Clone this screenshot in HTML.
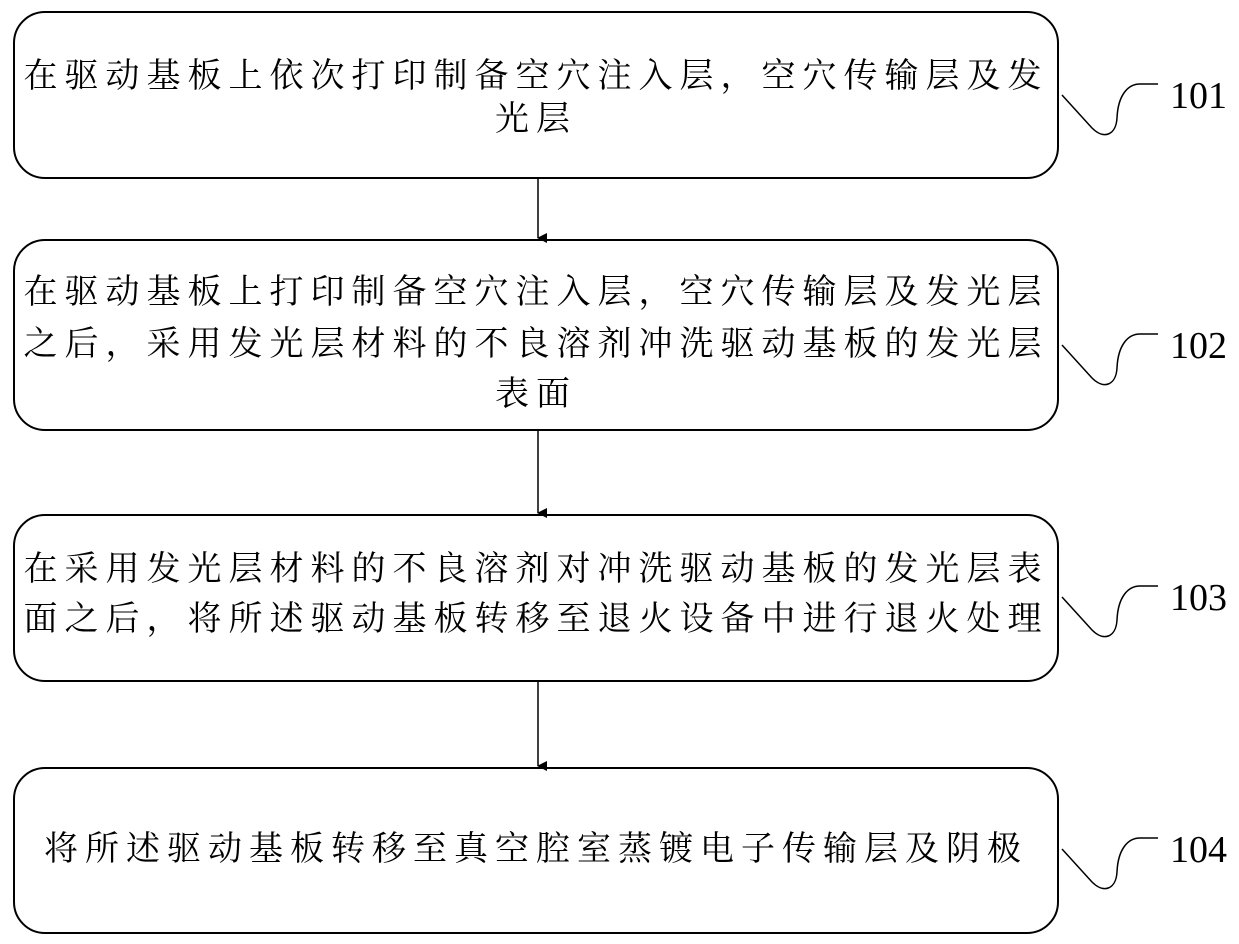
<!DOCTYPE html>
<html><head><meta charset="utf-8"><style>
body{margin:0;width:1239px;height:944px;background:#fff;position:relative;overflow:hidden;font-family:"Liberation Serif","Noto Serif CJK SC",serif}
.box{position:absolute;left:13px;width:1046px;border:2px solid #000;border-radius:32px;box-sizing:border-box}
.t{position:absolute;left:13px;width:1046px;text-align:center;font-size:34px;letter-spacing:7px;line-height:40px;white-space:nowrap;color:#000}
.n{position:absolute;left:1170px;font-size:38px;line-height:40px;font-family:"Liberation Serif",serif}
</style></head><body>
<div class="box" style="top:11px;height:168px"></div>
<div class="t" style="top:57px">在驱动基板上依次打印制备空穴注入层，空穴传输层及发</div>
<div class="t" style="top:100px">光层</div>
<div class="box" style="top:239px;height:192px"></div>
<div class="t" style="top:273px">在驱动基板上打印制备空穴注入层，空穴传输层及发光层</div>
<div class="t" style="top:325px">之后，采用发光层材料的不良溶剂冲洗驱动基板的发光层</div>
<div class="t" style="top:375px">表面</div>
<div class="box" style="top:514px;height:168px"></div>
<div class="t" style="top:550px">在采用发光层材料的不良溶剂对冲洗驱动基板的发光层表</div>
<div class="t" style="top:600px">面之后，将所述驱动基板转移至退火设备中进行退火处理</div>
<div class="box" style="top:767px;height:167px"></div>
<div class="t" style="top:830px">将所述驱动基板转移至真空腔室蒸镀电子传输层及阴极</div>
<div class="n" style="top:76px">101</div>
<div class="n" style="top:326px">102</div>
<div class="n" style="top:578px">103</div>
<div class="n" style="top:830px">104</div>
<svg width="1239" height="944" style="position:absolute;left:0;top:0" fill="none" stroke="#000" stroke-width="1.5">
<defs><marker id="a" markerWidth="10" markerHeight="10" refX="5" refY="9" orient="auto" markerUnits="userSpaceOnUse"><path d="M0,0 L10,0 L5,10Z" fill="#000" stroke="none"/></marker></defs>
<line x1="538" y1="179" x2="538" y2="238" marker-end="url(#a)"/>
<line x1="538" y1="431" x2="538" y2="513" marker-end="url(#a)"/>
<line x1="538" y1="682" x2="538" y2="766" marker-end="url(#a)"/>
<path d="M1062,95 L1092,128 C1104,140 1116,135 1117,118 C1118,95 1128,84 1140,84 L1158,84"/>
<path d="M1062,345 L1092,378 C1104,390 1116,385 1117,368 C1118,345 1128,334 1140,334 L1158,334"/>
<path d="M1062,597 L1092,630 C1104,642 1116,637 1117,620 C1118,597 1128,586 1140,586 L1158,586"/>
<path d="M1062,849 L1092,882 C1104,894 1116,889 1117,872 C1118,849 1128,838 1140,838 L1158,838"/>
</svg>
</body></html>
